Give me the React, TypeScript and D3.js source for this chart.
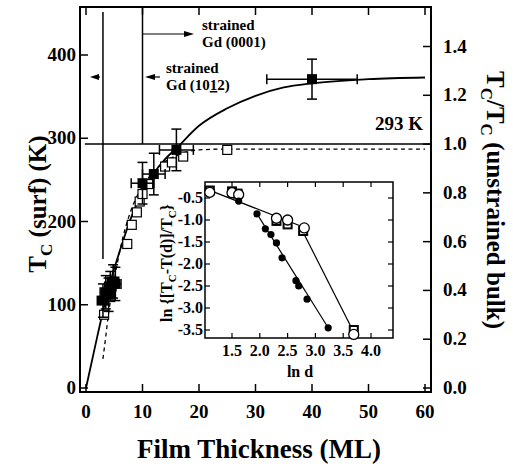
import React from 'react';
import * as d3 from 'd3';

// ---------- data ----------
const xTicks = [0, 10, 20, 30, 40, 50, 60];
const yTicks = [0, 100, 200, 300, 400];
const rTicks = [0, 0.2, 0.4, 0.6, 0.8, 1.0, 1.2, 1.4];
const bulkTc = 293;

// solid fit curve (T_C vs thickness)
const solidFit: [number, number][] = [
  [0, 0], [2, 62], [4, 120], [6, 165], [8, 205], [10, 235], [12, 258], [14, 275],
  [16, 288], [20, 315], [25, 336], [30, 351], [35, 361], [40, 366], [50, 371], [60, 373],
];
// dashed curve
const dashedFit: [number, number][] = [
  [3, 35], [3.5, 62], [4, 90], [5, 130], [6, 165], [7, 193], [8, 214], [10, 242],
  [12, 260], [14, 272], [16, 279], [18, 284], [20, 286], [25, 287], [60, 287],
];
// filled squares with error bars: [d, T, errD, errT]
const filledSquares: [number, number, number, number][] = [
  [3, 105, 1, 20], [3.5, 115, 1, 20], [4, 112, 1, 20], [4.3, 122, 1, 18],
  [4.8, 128, 1, 20], [5.2, 125, 1, 20], [10, 246, 2, 25], [12, 257, 2, 25],
  [16, 286, 3, 25], [40, 371, 8, 24],
];
// open squares
const openSquares: [number, number][] = [
  [3.2, 88], [7.3, 173], [8.1, 196], [9, 211], [9.5, 224], [10, 233], [11, 245],
  [14, 266], [15.2, 271], [17.2, 278], [25, 286],
];

// inset
const insetXTicks = [1.5, 2.0, 2.5, 3.0, 3.5, 4.0];
const insetYTicks = [-0.5, -1.0, -1.5, -2.0, -2.5, -3.0, -3.5];
const insetOpenSquares: [number, number][] = [
  [1.1, -0.33], [1.5, -0.35], [1.6, -0.4], [2.3, -1.02], [2.5, -1.1], [2.78, -1.25], [3.69, -3.5],
];
const insetOpenCircles: [number, number][] = [
  [1.1, -0.37], [1.5, -0.38], [1.62, -0.42], [2.3, -0.96], [2.5, -1.0], [2.8, -1.18], [3.69, -3.6],
];
const insetFilled: [number, number][] = [
  [1.62, -0.57], [1.95, -0.86], [2.1, -1.2], [2.2, -1.33], [2.3, -1.52], [2.4, -1.86],
  [2.65, -2.38], [2.7, -2.5], [2.85, -2.8], [3.23, -3.45],
];
const insetFitUpper: [number, number][] = [[1.01, -0.28], [2.78, -1.16]];
const insetFitUpperSteep: [number, number][] = [[2.72, -1.13], [3.69, -3.55]];
const insetFitFilled: [number, number][] = [[1.95, -0.86], [3.23, -3.45]];

// ---------- layout ----------
const FONT = '"Liberation Serif", "Times New Roman", serif';

export default function App() {
  const x = d3.scaleLinear().domain([0, 60]).range([86, 425]);
  const y = d3.scaleLinear().domain([0, 400]).range([388, 55]);
  const yR = (v: number) => y(v * bulkTc);
  const L = 80, R = 431, T = 7, B = 392;

  const xi = d3.scaleLinear().domain([1.5, 4.0]).range([232, 371]);
  const yi = d3.scaleLinear().domain([-0.5, -3.5]).range([198, 330]);
  const iL = 205, iR = 393, iT = 182, iB = 338;

  const line = d3.line<[number, number]>().x(d => x(d[0])).y(d => y(d[1])).curve(d3.curveMonotoneX);
  const iline = d3.line<[number, number]>().x(d => xi(d[0])).y(d => yi(d[1]));

  const tl = 8;
  const sq = 10;
  const osq = 9;

  return (
    <svg width={513} height={467} style={{ position: 'absolute', left: 0, top: 0, background: '#fff' }}
      fontFamily={FONT} fontWeight="bold">
      <rect x={0} y={0} width={513} height={467} fill="#fff" />
      {/* frame */}
      <rect x={L} y={T} width={R - L} height={B - T} fill="none" stroke="#000" strokeWidth={2} />
      {xTicks.map(v => (
        <g key={'x' + v}>
          <line x1={x(v)} x2={x(v)} y1={B} y2={B - tl} stroke="#000" strokeWidth={1.5} />
          <line x1={x(v)} x2={x(v)} y1={T} y2={T + tl} stroke="#000" strokeWidth={1.5} />
          <text x={x(v)} y={418} fontSize={19} textAnchor="middle">{v}</text>
        </g>
      ))}
      {yTicks.map(v => (
        <g key={'y' + v}>
          <line x1={L} x2={L + tl} y1={y(v)} y2={y(v)} stroke="#000" strokeWidth={1.5} />
          <text x={76} y={y(v) + 6} fontSize={19} textAnchor="end">{v}</text>
        </g>
      ))}
      {rTicks.map(v => (
        <g key={'r' + v}>
          <line x1={R} x2={R - tl} y1={yR(v)} y2={yR(v)} stroke="#000" strokeWidth={1.5} />
          <text x={443} y={yR(v) + 6} fontSize={19} textAnchor="start">{v.toFixed(1)}</text>
        </g>
      ))}

      {/* axis titles */}
      <text x={259} y={458} fontSize={27} textAnchor="middle">Film Thickness (ML)</text>
      <text transform={`translate(46,204) rotate(-90)`} fontSize={25} textAnchor="middle">
        T<tspan dy={6} fontSize={17}>C</tspan><tspan dy={-6}> (surf) (K)</tspan>
      </text>
      <text transform={`translate(487,200) rotate(90)`} fontSize={25} textAnchor="middle">
        T<tspan dy={6} fontSize={17}>C</tspan><tspan dy={-6}>/T</tspan><tspan dy={6} fontSize={17}>C</tspan><tspan dy={-6}> (unstrained bulk)</tspan>
      </text>

      {/* reference lines */}
      <line x1={x(-0.2)} x2={R} y1={y(bulkTc)} y2={y(bulkTc)} stroke="#000" strokeWidth={1.5} />
      <line x1={x(3)} x2={x(3)} y1={12} y2={y(155)} stroke="#000" strokeWidth={1.5} />
      <line x1={x(10)} x2={x(10)} y1={T} y2={y(bulkTc)} stroke="#000" strokeWidth={1.5} />
      <text x={423} y={130} fontSize={19} textAnchor="end">293 K</text>

      {/* arrows */}
      <line x1={x(10)} x2={186} y1={34} y2={34} stroke="#000" strokeWidth={1.2} />
      <path d="M194,34 L184,31 L184,37 Z" fill="#000" />
      <line x1={152} x2={160} y1={77} y2={77} stroke="#000" strokeWidth={1.2} />
      <path d="M145,77 L155,74 L155,80 Z" fill="#000" />
      <line x1={97} x2={100} y1={77} y2={77} stroke="#000" strokeWidth={1.2} />
      <path d="M90,77 L99,74 L99,80 Z" fill="#000" />
      <text x={202} y={30} fontSize={15}>strained</text>
      <text x={202} y={47} fontSize={15}>Gd (0001)</text>
      <text x={166} y={73} fontSize={15}>strained</text>
      <text x={166} y={90} fontSize={15}>Gd (10<tspan textDecoration="underline" style={{ textDecoration: 'underline' }}>1</tspan>2)</text>

      {/* curves */}
      <path d={line(dashedFit) || ''} fill="none" stroke="#000" strokeWidth={1.3} strokeDasharray="4,3.5" />
      <path d={line(solidFit) || ''} fill="none" stroke="#000" strokeWidth={1.8} />

      {openSquares.map((p, i) => (
        <rect key={'o' + i} x={x(p[0]) - osq / 2} y={y(p[1]) - osq / 2} width={osq} height={osq}
          fill="#fff" stroke="#000" strokeWidth={1.2} />
      ))}
      {filledSquares.map((p, i) => {
        const cx = x(p[0]), cy = y(p[1]);
        const x0 = x(p[0] - p[2]), x1 = x(p[0] + p[2]);
        const y0 = y(p[1] + p[3]), y1 = y(p[1] - p[3]);
        const c = 5;
        return (
          <g key={'f' + i} stroke="#000" strokeWidth={1.5}>
            <line x1={x0} x2={x1} y1={cy} y2={cy} />
            <line x1={x0} x2={x0} y1={cy - c} y2={cy + c} />
            <line x1={x1} x2={x1} y1={cy - c} y2={cy + c} />
            <line x1={cx} x2={cx} y1={y0} y2={y1} />
            <line x1={cx - c} x2={cx + c} y1={y0} y2={y0} />
            <line x1={cx - c} x2={cx + c} y1={y1} y2={y1} />
            <rect x={cx - sq / 2} y={cy - sq / 2} width={sq} height={sq} fill="#000" stroke="none" />
          </g>
        );
      })}

      {/* inset */}
      <rect x={iL} y={iT} width={iR - iL} height={iB - iT} fill="#fff" stroke="#000" strokeWidth={1.5} />
      {insetXTicks.map(v => (
        <g key={'ix' + v}>
          <line x1={xi(v)} x2={xi(v)} y1={iB} y2={iB - 5} stroke="#000" strokeWidth={1.2} />
          <line x1={xi(v)} x2={xi(v)} y1={iT} y2={iT + 5} stroke="#000" strokeWidth={1.2} />
          <text x={xi(v)} y={356} fontSize={16} textAnchor="middle">{v.toFixed(1)}</text>
        </g>
      ))}
      {insetYTicks.map(v => (
        <g key={'iy' + v}>
          <line x1={iL} x2={iL + 5} y1={yi(v)} y2={yi(v)} stroke="#000" strokeWidth={1.2} />
          <line x1={iR} x2={iR - 5} y1={yi(v)} y2={yi(v)} stroke="#000" strokeWidth={1.2} />
          <text x={203} y={yi(v) + 5} fontSize={16} textAnchor="end">{v.toFixed(1)}</text>
        </g>
      ))}
      <text x={300} y={377} fontSize={16} textAnchor="middle">ln d</text>
      <text transform={`translate(172,263) rotate(-90)`} fontSize={16} textAnchor="middle">
        ln {'{'}[T<tspan dy={4} fontSize={11}>C</tspan><tspan dy={-4}>-T(d)]/T</tspan><tspan dy={4} fontSize={11}>C</tspan><tspan dy={-4}>{'}'}</tspan>
      </text>

      <path d={iline(insetFitUpper) || ''} fill="none" stroke="#000" strokeWidth={1.2} />
      <path d={iline(insetFitUpperSteep) || ''} fill="none" stroke="#000" strokeWidth={1.2} />
      <path d={iline(insetFitFilled) || ''} fill="none" stroke="#000" strokeWidth={1.2} />

      {insetOpenSquares.map((p, i) => (
        <rect key={'is' + i} x={xi(p[0]) - 4.5} y={yi(p[1]) - 4.5} width={9} height={9}
          fill="#000" stroke="#000" strokeWidth={1} />
      ))}
      {insetOpenSquares.map((p, i) => (
        <rect key={'is2' + i} x={xi(p[0]) - 3} y={yi(p[1]) - 3} width={6} height={6} fill="#fff" />
      ))}
      {insetOpenCircles.map((p, i) => (
        <circle key={'ic' + i} cx={xi(p[0])} cy={yi(p[1])} r={5} fill="#fff" stroke="#000" strokeWidth={1.3} />
      ))}
      {insetFilled.map((p, i) => (
        <circle key={'if' + i} cx={xi(p[0])} cy={yi(p[1])} r={3.6} fill="#000" />
      ))}
    </svg>
  );
}
